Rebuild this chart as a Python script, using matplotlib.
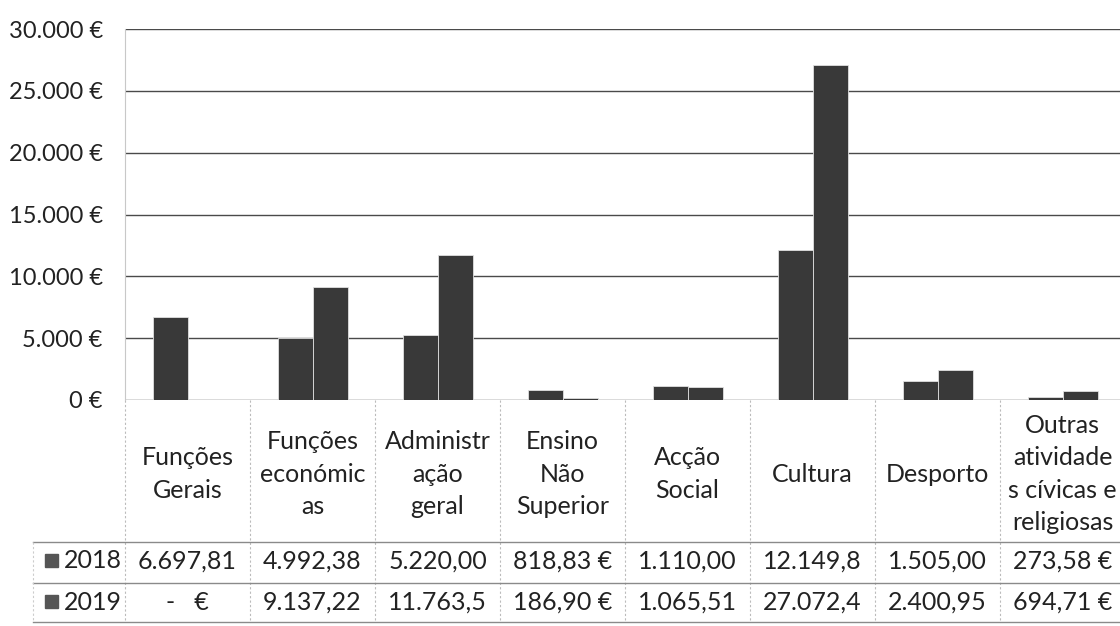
import numpy as np
import matplotlib
matplotlib.use('Agg')
import matplotlib.pyplot as plt
from matplotlib import transforms
from matplotlib.lines import Line2D

# data
categories = ['Funções\nGerais', 'Funções\neconómic\nas', 'Administr\nação\ngeral',
              'Ensino\nNão\nSuperior', 'Acção\nSocial', 'Cultura', 'Desporto',
              'Outras\natividade\ns cívicas e\nreligiosas']
series = ['2018', '2019']
v2018 = [6697.81, 4992.38, 5220.00, 818.83, 1110.00, 12149.8, 1505.00, 273.58]
v2019 = [0.0, 9137.22, 11763.5, 186.90, 1065.51, 27072.4, 2400.95, 694.71]
t2018 = ['6.697,81', '4.992,38', '5.220,00', '818,83 €', '1.110,00', '12.149,8', '1.505,00', '273,58 €']
t2019 = ['-   €', '9.137,22', '11.763,5', '186,90 €', '1.065,51', '27.072,4', '2.400,95', '694,71 €']
yticks = [0, 5000, 10000, 15000, 20000, 25000, 30000]
ytick_labels = ['0 €', '5.000 €', '10.000 €', '15.000 €', '20.000 €', '25.000 €', '30.000 €']

plt.rcParams['font.family'] = ['Lato', 'DejaVu Sans']

W, H = 1120, 626
fig = plt.figure(figsize=(W/100, H/100), dpi=100)
def fy(y):
    return 1 - y/H

ax = fig.add_axes([125/W, fy(400), 1000/W, (400-29)/H])
x = np.arange(len(categories))
bw = 0.28
barcol = '#393939'
ax.bar(x - bw/2, v2018, bw, color=barcol, edgecolor='#e0e0e0', linewidth=0.6, zorder=3)
ax.bar(x + bw/2, v2019, bw, color=barcol, edgecolor='#e0e0e0', linewidth=0.6, zorder=3)
ax.set_xlim(-0.5, len(categories) - 0.5)
ax.set_ylim(0, 30000)
ax.set_yticks(yticks)
ax.set_yticklabels(ytick_labels, fontsize=17, color='#222222')
ax.set_xticks([])
ax.tick_params(axis='y', length=0, pad=16)
ax.grid(axis='y', color='#4a4a4a', linewidth=1.0, zorder=0)
for s in ['top', 'right', 'bottom']:
    ax.spines[s].set_visible(False)
ax.spines['left'].set_color('#c8c8c8')

# table below the axes
tr = transforms.blended_transform_factory(ax.transData, fig.transFigure)
fs = 18
for i, c in enumerate(categories):
    ax.text(i, fy(474), c, transform=tr, ha='center', va='center', fontsize=fs,
            color='#222222', linespacing=1.5, clip_on=False)
    ax.text(i, fy(561), t2018[i], transform=tr, ha='center', va='center', fontsize=fs,
            color='#222222', clip_on=False)
    ax.text(i, fy(602), t2019[i], transform=tr, ha='center', va='center', fontsize=fs,
            color='#222222', clip_on=False)

# row labels with legend keys
for yy, name in zip([561, 602], series):
    fig.patches.append(plt.Rectangle((45/W, fy(yy) - 6/H), 13/W, 13/H, color='#555555',
                                     transform=fig.transFigure, figure=fig))
    fig.text(64/W, fy(yy), name, ha='left', va='center', fontsize=fs, color='#222222')

# table lines
for yy in [542, 583, 622]:
    fig.add_artist(Line2D([33/W, 1.0], [fy(yy), fy(yy)], color='#8a8a8a', linewidth=1.0))
for i in range(len(categories) + 1):
    xx = i - 0.5
    ax.add_line(Line2D([xx, xx], [fy(400), fy(622)], transform=tr, color='#bbbbbb',
                       linewidth=0.8, linestyle=(0, (2, 2)), clip_on=False))
fig.add_artist(Line2D([33/W, 33/W], [fy(542), fy(622)], color='#cccccc', linewidth=0.8,
                      linestyle=(0, (2, 2))))

fig.savefig('out.png', dpi=100, facecolor='white')
